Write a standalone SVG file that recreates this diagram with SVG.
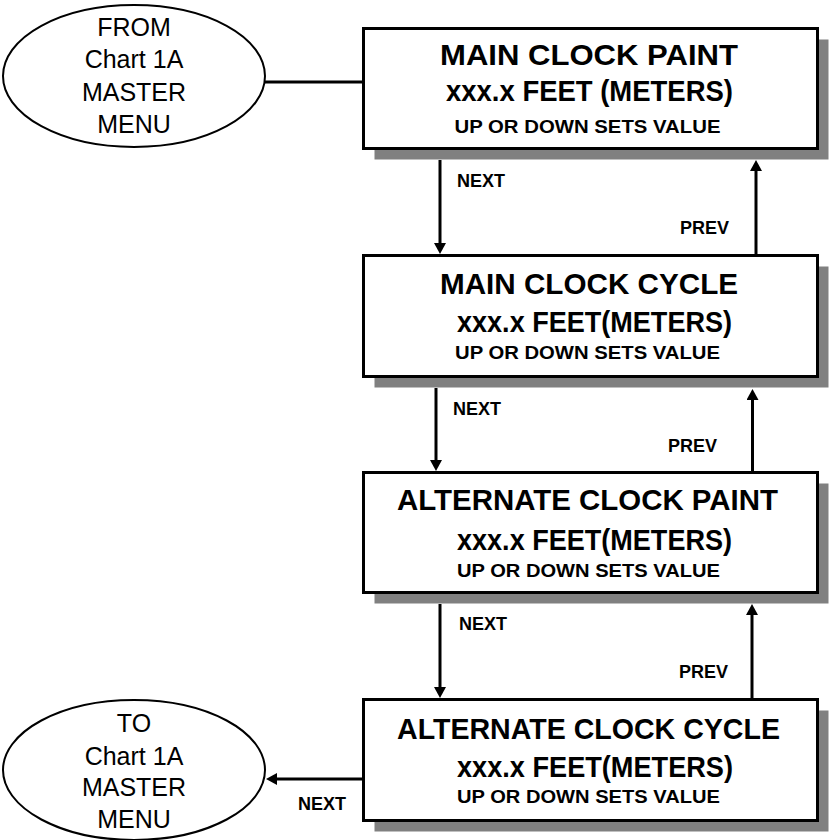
<svg xmlns="http://www.w3.org/2000/svg" width="830" height="840" viewBox="0 0 830 840">
  <defs>
    <marker id="arrow" viewBox="0 0 11 12" refX="7" refY="6" markerWidth="11" markerHeight="12" markerUnits="userSpaceOnUse" orient="auto">
      <path d="M0,0 L11,6 L0,12 z" fill="#000"/>
    </marker>
  </defs>
  <style>
    .box { fill: #fff; stroke: #000; stroke-width: 3; }
    .shadow { fill: #808080; }
    .term { fill: #fff; stroke: #000; stroke-width: 2; }
    .t1 { font-family: "Liberation Sans", Arial, sans-serif; font-weight: bold; font-size: 30px; text-anchor: middle; }
    .t2 { font-family: "Liberation Sans", Arial, sans-serif; font-weight: bold; font-size: 29px; text-anchor: middle; }
    .t3 { font-family: "Liberation Sans", Arial, sans-serif; font-weight: bold; font-size: 18px; text-anchor: middle; }
    .tt { font-family: "Liberation Sans", Arial, sans-serif; font-size: 25px; text-anchor: middle; }
    .lbl { font-family: "Liberation Sans", Arial, sans-serif; font-weight: bold; font-size: 18px; }
    .wire { stroke: #000; stroke-width: 3; fill: none; }
  </style>

  <!-- terminal: entry -->
  <g id="from-master">
    <ellipse class="term" cx="134" cy="76" rx="131" ry="71"/>
    <text class="tt" x="134" y="36">FROM</text>
    <text class="tt" x="134" y="68">Chart 1A</text>
    <text class="tt" x="134" y="101">MASTER</text>
    <text class="tt" x="134" y="133">MENU</text>
  </g>

  <!-- terminal: exit -->
  <g id="to-master">
    <ellipse class="term" cx="134" cy="770" rx="131" ry="70"/>
    <text class="tt" x="134" y="732">TO</text>
    <text class="tt" x="134" y="765">Chart 1A</text>
    <text class="tt" x="134" y="796">MASTER</text>
    <text class="tt" x="134" y="828">MENU</text>
  </g>

  <g id="main-clock-paint">
    <rect class="shadow" x="374.5" y="39.5" width="454" height="120"/>
    <rect class="box" x="363.5" y="28.5" width="454" height="120"/>
    <text class="t1" x="589" y="65" textLength="298" lengthAdjust="spacingAndGlyphs">MAIN CLOCK PAINT</text>
    <text class="t2" x="589.5" y="101" textLength="287" lengthAdjust="spacingAndGlyphs">xxx.x FEET (METERS)</text>
    <text class="t3" x="587.5" y="133" textLength="266" lengthAdjust="spacingAndGlyphs">UP OR DOWN SETS VALUE</text>
  </g>

  <g id="main-clock-cycle">
    <rect class="shadow" x="374.5" y="266.5" width="454" height="121"/>
    <rect class="box" x="363.5" y="255.5" width="454" height="121"/>
    <text class="t1" x="589" y="294" textLength="298" lengthAdjust="spacingAndGlyphs">MAIN CLOCK CYCLE</text>
    <text class="t2" x="594.5" y="332" textLength="275" lengthAdjust="spacingAndGlyphs">xxx.x FEET(METERS)</text>
    <text class="t3" x="587.5" y="359" textLength="265" lengthAdjust="spacingAndGlyphs">UP OR DOWN SETS VALUE</text>
  </g>

  <g id="alternate-clock-paint">
    <rect class="shadow" x="374.5" y="483.5" width="454" height="120"/>
    <rect class="box" x="363.5" y="472.5" width="454" height="120"/>
    <text class="t1" x="587.5" y="510" textLength="381" lengthAdjust="spacingAndGlyphs">ALTERNATE CLOCK PAINT</text>
    <text class="t2" x="594.5" y="550" textLength="275" lengthAdjust="spacingAndGlyphs">xxx.x FEET(METERS)</text>
    <text class="t3" x="588.5" y="577" textLength="263" lengthAdjust="spacingAndGlyphs">UP OR DOWN SETS VALUE</text>
  </g>

  <g id="alternate-clock-cycle">
    <rect class="shadow" x="374.5" y="710.5" width="454" height="121"/>
    <rect class="box" x="363.5" y="699.5" width="454" height="121"/>
    <text class="t1" x="588.5" y="739" textLength="383" lengthAdjust="spacingAndGlyphs">ALTERNATE CLOCK CYCLE</text>
    <text class="t2" x="595" y="777" textLength="276" lengthAdjust="spacingAndGlyphs">xxx.x FEET(METERS)</text>
    <text class="t3" x="588.5" y="803" textLength="263" lengthAdjust="spacingAndGlyphs">UP OR DOWN SETS VALUE</text>
  </g>

  <g id="connectors">
    <!-- entry link -->
    <line class="wire" x1="265" y1="82" x2="362" y2="82"/>

    <!-- paint <-> cycle -->
    <line class="wire" x1="440" y1="160" x2="440" y2="250" marker-end="url(#arrow)"/>
    <text class="lbl" x="457" y="187">NEXT</text>
    <line class="wire" x1="756" y1="254" x2="756" y2="164" marker-end="url(#arrow)"/>
    <text class="lbl" x="729" y="234" text-anchor="end">PREV</text>

    <!-- cycle <-> alternate paint -->
    <line class="wire" x1="436" y1="388" x2="436" y2="467" marker-end="url(#arrow)"/>
    <text class="lbl" x="453" y="415">NEXT</text>
    <line class="wire" x1="752.5" y1="471" x2="752.5" y2="393" marker-end="url(#arrow)"/>
    <text class="lbl" x="717" y="452" text-anchor="end">PREV</text>

    <!-- alternate paint <-> alternate cycle -->
    <line class="wire" x1="440" y1="604" x2="440" y2="694" marker-end="url(#arrow)"/>
    <text class="lbl" x="459" y="630">NEXT</text>
    <line class="wire" x1="752" y1="698" x2="752" y2="608" marker-end="url(#arrow)"/>
    <text class="lbl" x="728" y="678" text-anchor="end">PREV</text>

    <!-- exit link -->
    <line class="wire" x1="362" y1="779" x2="270" y2="779" marker-end="url(#arrow)"/>
    <text class="lbl" x="298" y="810">NEXT</text>
  </g>
</svg>
